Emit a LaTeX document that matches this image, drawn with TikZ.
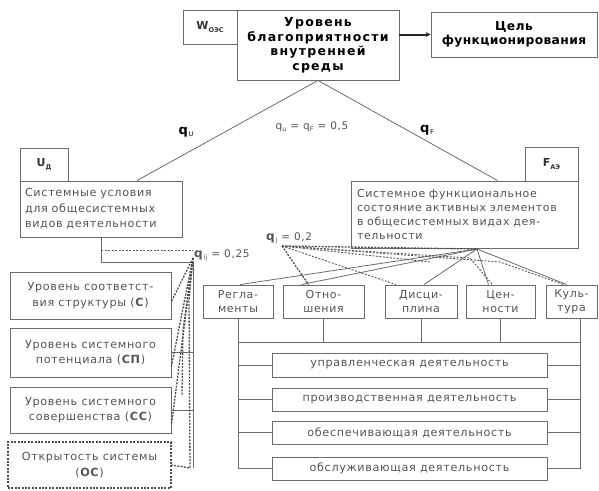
\documentclass[tikz,border=0pt]{standalone}
\usepackage{fontspec}
\setmainfont{DejaVu Sans}
\newfontfamily\wide[LetterSpace=6]{DejaVu Sans}
\newfontfamily\widebf[LetterSpace=3]{DejaVu Sans Bold}
\newfontfamily\widerbf[LetterSpace=10]{DejaVu Sans Bold}
\usetikzlibrary{arrows.meta,calc}
\definecolor{lc}{gray}{0.42}
\definecolor{tc}{gray}{0.33}
\newcommand{\lowsub}[1]{\raisebox{-0.35ex}{\fontsize{6.5}{6.5}\selectfont #1}}
\begin{document}
\begin{tikzpicture}[x=1pt,y=-1pt,
  bx/.style={draw=lc, line width=0.9pt, inner sep=0pt, align=center, text=tc,
             font=\wide\fontsize{11.2}{15.5}\selectfont},
  hd/.style={bx, text=black, font=\widebf\fontsize{12.3}{14.5}\selectfont},
  tb/.style={bx, font=\bfseries\fontsize{11}{12}\selectfont, text=black!80},
  ln/.style={draw=lc, line width=0.8pt},
  dl/.style={draw=black!70, line width=1.3pt, dash pattern=on 2pt off 1.3pt},
  dlt/.style={draw=black!65, line width=0.9pt, dash pattern=on 2pt off 1.5pt},
  lab/.style={text=tc, font=\wide\fontsize{10.5}{12}\selectfont, inner sep=0pt}]
\useasboundingbox (0,0) rectangle (599,490);

% top row
\node[tb, minimum width=54, minimum height=34] (w) at (210,27) {W\lowsub{ОЭС}};
\node[hd, minimum width=162, minimum height=70, font=\widerbf\fontsize{12.5}{14.5}\selectfont] (main) at (318,45) {Уровень\\благоприятности\\внутренней\\среды};
\node[hd, minimum width=166, minimum height=45] (goal) at (514,34.5) {Цель\\функционирования};
\draw[draw=black!85, line width=2pt, -{Stealth[length=5pt,width=5pt]}] (main.east |- goal.west) -- (goal.west);

% U block
\node[tb, minimum width=48, minimum height=33] (utab) at (44,164.5) {U\lowsub{Д}};
\node[bx, minimum width=162, minimum height=56, text width=152, align=left] (ubox) at (101,209) {Системные условия\\для общесистемных\\видов деятельности};

% F block
\node[tb, minimum width=53, minimum height=34] (ftab) at (551.5,164) {F\lowsub{АЭ}};
\node[bx, minimum width=227, minimum height=67, text width=215, align=left, font=\wide\fontsize{11}{14}\selectfont] (fbox) at (464.5,214.5) {Системное функциональное\\состояние активных элементов\\в общесистемных видах дея-\\тельности};

% triangle
\draw[ln] ([xshift=36]ubox.north) -- (main.south) -- ([xshift=33]fbox.north);
\node[lab, text=black] (qu) at (186,132) {\fontsize{13}{13}\selectfont\textbf{q}\lowsub{U}};
\node[lab] (qq) at (312,127) {q\lowsub{u} = q\lowsub{F} = 0,5};
\node[lab, text=black] (qf) at (427,130) {\fontsize{13}{13}\selectfont\textbf{q}\lowsub{F}};

% left boxes
\node[bx, minimum width=161, minimum height=47] (b1) at (90.5,295.5) {Уровень соответст-\\вия структуры (\textbf{С})};
\node[bx, minimum width=161, minimum height=49] (b2) at (90.5,352.5) {Уровень системного\\потенциала (\textbf{СП})};
\node[bx, minimum width=161, minimum height=46] (b3) at (90.5,410) {Уровень системного\\совершенства (\textbf{СС})};
\node[bx, draw=black!70, dash pattern=on 2pt off 1.4pt, line width=1.1pt, minimum width=163, minimum height=46] (b4) at (89.5,465) {Открытость системы\\(\textbf{ОС})};

\coordinate (lj) at (193,262);
\coordinate (lb) at (193,468);
\draw[ln] (ubox.south) |- (lj) -- (lb);
\draw[ln] (b2.east) -- (b2.east -| lj);
\draw[ln] (b3.east) -- (b3.east -| lj);
\draw[dlt] (101,250) -- (193,250);
\node[lab, anchor=west] (qij) at (194,255) {\fontsize{12}{12}\selectfont\textbf{q}\lowsub{ij}\wide\fontsize{10.5}{12}\selectfont\ = 0,25};
\coordinate (qijp) at (193,258);
\draw[dl] (qijp) -- ([yshift=-6]b1.east);
\draw[dl] (qijp) -- ([yshift=-14]b2.east);
\draw[dl] (qijp) -- ([yshift=-15]b3.east);
\draw[dl] (qijp) -- (189,300) -- (190,468) -- (b4.east);
\draw[dl] (qijp) -- (183,330) -- (182,395);

% right boxes
\node[bx, minimum width=70, minimum height=33, font=\wide\fontsize{11}{14}\selectfont] (r1) at (238,301.5) {Регла-\\менты};
\node[bx, minimum width=81, minimum height=33, font=\wide\fontsize{11}{14}\selectfont] (r2) at (323.5,301.5) {Отно-\\шения};
\node[bx, minimum width=72, minimum height=33, font=\wide\fontsize{11}{14}\selectfont] (r3) at (421,301.5) {Дисци-\\плина};
\node[bx, minimum width=69, minimum height=33, font=\wide\fontsize{11}{14}\selectfont] (r4) at (500.5,301.5) {Цен-\\ности};
\node[bx, minimum width=51, minimum height=33, font=\wide\fontsize{11}{14}\selectfont] (r5) at (571.5,301.5) {Куль-\\тура};

% fans to the five boxes
\coordinate (fb) at (477,249);
\draw[ln] (fb) -- ([xshift=2]r1.north);
\draw[ln] (fb) -- ([xshift=-22]r2.north);
\draw[ln] (fb) -- ([xshift=3]r3.north);
\draw[ln] (fb) -- ([xshift=-12]r4.north);
\draw[ln] (fb) -- ([xshift=-5]r5.north);
\node[lab, anchor=west] (qj) at (266,238) {\fontsize{12}{12}\selectfont\textbf{q}\lowsub{j}\wide\fontsize{10.5}{12}\selectfont\ = 0,2};
\coordinate (qjp) at (282,246);
\draw[dl] (qjp) -- ([xshift=-15]r2.north);
\draw[dlt] (qjp) -- ([xshift=-25]r3.north);
\draw[dl] (qjp) -- (fb);
\draw[dlt] (qjp) -- (470,258) -- ([xshift=-8]r4.north);
\draw[dlt] (qjp) -- (500,262) -- ([xshift=-8]r5.north);
\draw[dlt] (qjp) -- (430,262);

% activity boxes
\node[bx, minimum width=275, minimum height=24] (a1) at (409.5,365) {управленческая деятельность};
\node[bx, minimum width=275, minimum height=23] (a2) at (409.5,399.5) {производственная деятельность};
\node[bx, minimum width=275, minimum height=23] (a3) at (409.5,432.5) {обеспечивающая деятельность};
\node[bx, minimum width=275, minimum height=23] (a4) at (409.5,468.5) {обслуживающая деятельность};

\coordinate (bl) at (238,342);
\coordinate (br) at (580,342);
\draw[ln] (bl) -- (br);
\draw[ln] (r2.south) -- (r2.south |- bl);
\draw[ln] (r3.south) -- (r3.south |- bl);
\draw[ln] (r4.south) -- (r4.south |- bl);
\draw[ln] (r1.south) -- (r1.south |- a4.west);
\draw[ln] ([xshift=8.5]r5.south) -- ([xshift=8.5]r5.south |- a4.east);
\foreach \a in {a1,a2,a3,a4}{
  \draw[ln] (\a.west) -- (\a.west -| bl);
  \draw[ln] (\a.east) -- (\a.east -| br);
}
\end{tikzpicture}
\end{document}
